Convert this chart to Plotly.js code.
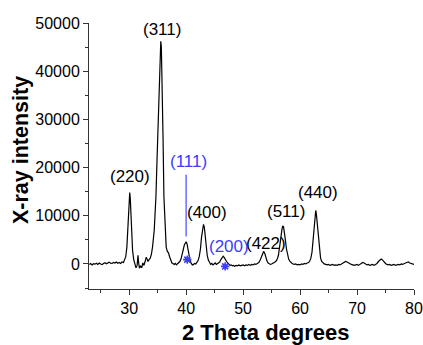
<!DOCTYPE html>
<html>
<head>
<meta charset="utf-8">
<script src="https://cdn.plot.ly/plotly-3.0.1.min.js"></script>
<style>html,body{margin:0;padding:0;background:#fff;}#chart{width:423px;height:345px;}</style>
</head>
<body>
<div id="chart"></div>
<script>
// 2-theta positions (degrees)
const twoTheta = [
 23.0,23.25,23.5,23.75,24.0,24.25,24.5,24.75,25.0,25.25,25.5,25.75,26.0,26.25,26.5,26.75,27.0,27.25,27.5,27.75,28.0,28.25,28.5,28.75,29.0,
 29.2,29.4,29.6,29.8,29.9,30.0,30.1,30.2,30.3,30.45,30.6,30.8,31.0,31.2,31.4,31.55,31.65,31.8,32.0,32.2,32.4,32.6,32.8,33.0,33.15,33.3,33.5,33.7,33.9,
 34.1,34.4,34.7,34.9,35.1,35.3,35.45,35.55,35.65,35.8,35.95,36.1,36.3,36.5,36.7,36.9,37.1,37.3,37.5,37.7,37.9,38.1,38.3,38.5,38.7,38.9,
 39.1,39.3,39.5,39.7,39.85,40.0,40.15,40.3,40.5,40.7,40.9,41.1,41.3,41.5,41.7,41.9,42.1,42.3,42.5,42.7,42.9,43.05,43.2,43.35,43.5,43.7,43.9,
 44.1,44.3,44.5,44.7,44.9,45.1,45.3,45.5,45.7,45.9,46.1,46.3,46.5,46.7,46.9,47.1,47.3,47.5,47.7,47.9,48.1,48.3,48.5,48.75,49.0,49.25,49.5,49.75,
 50.0,50.25,50.5,50.75,51.0,51.25,51.5,51.75,52.0,52.25,52.5,52.75,53.0,53.2,53.4,53.6,53.8,54.0,54.2,54.4,54.6,54.8,55.0,55.2,55.4,55.6,55.8,
 56.0,56.2,56.4,56.6,56.8,56.95,57.1,57.25,57.4,57.6,57.8,58.0,58.2,58.4,58.6,58.8,59.0,59.25,59.5,59.75,60.0,60.25,60.5,60.75,61.0,61.25,61.5,
 61.7,61.9,62.1,62.3,62.5,62.65,62.75,62.85,63.0,63.2,63.4,63.6,63.8,64.0,64.25,64.5,64.75,65.0,65.25,65.5,65.75,66.0,66.25,66.5,66.75,67.0,
 67.25,67.5,67.75,68.0,68.25,68.5,68.75,69.0,69.25,69.5,69.75,70.0,70.25,70.5,70.75,71.0,71.25,71.5,71.75,72.0,72.25,72.5,72.75,73.0,73.25,
 73.5,73.75,74.0,74.25,74.5,74.75,75.0,75.25,75.5,75.75,76.0,76.25,76.5,76.75,77.0,77.25,77.5,77.75,78.0,78.25,78.5,78.75,79.0,79.25,79.5,79.75,80.0
];
// X-ray intensity (counts)
const intensity = [
 -100,100,-200,50,-50,150,-100,200,0,-150,100,250,50,200,350,150,100,300,200,400,150,300,100,400,300,
 900,1500,3500,8500,12000,14300,14800,13500,10500,6000,2800,900,-200,-800,-300,1800,400,-900,-400,-800,200,-300,500,1400,1000,500,900,1200,2000,
 3500,7000,14000,22000,31000,40000,45000,46200,45000,38000,26000,14000,6500,3500,2600,2300,1500,600,200,100,-100,100,-200,50,200,500,
 1000,1800,3000,4000,4500,4600,4200,3200,1800,700,100,-200,-100,100,0,300,700,1500,3000,5500,7600,8200,7600,5800,3800,1800,800,
 300,-100,100,-200,0,200,-100,100,300,400,900,1300,1600,1300,800,500,200,-100,-300,-200,-400,-300,-500,-300,-400,-200,-400,-300,
 -200,-400,-200,-300,-100,-300,-100,-200,0,-100,100,300,800,1500,2300,2600,2200,1300,600,200,100,-100,0,100,200,400,600,
 1000,1800,3200,5200,7000,7900,7700,6800,5200,3200,1800,1000,600,300,100,0,-100,0,-200,-100,-200,0,-100,100,0,200,300,
 600,1200,2500,5200,8800,10800,11100,10500,8500,5200,2500,1200,500,200,0,-100,-200,-100,-300,-200,-100,-300,-200,-300,-100,-200,
 0,200,400,500,400,200,0,-100,-200,-300,-200,-100,-300,-100,100,300,200,-100,-200,-100,-300,-200,-100,-300,-100,
 100,500,800,1000,800,400,100,-100,-200,-100,-300,-200,-100,-300,-200,-100,-200,0,-100,100,200,300,400,200,100,0,-100
];

// peak labels (black)
const hklLabels = ["(220)","(311)","(400)","(422)","(511)","(440)"];
const hklX = [30.1, 35.8, 43.7, 54.0, 57.6, 63.2];
const hklY = [18200, 48600, 10700, 4200, 10900, 14850];

// impurity labels (blue)
const impLabels = ["(111)","(200)"];
const impX = [40.4, 47.5];
const impY = [21300, 3600];

// impurity asterisks
const starX = [40.2, 46.85];
const starY = [900, -500];

// blue marker line for (111)
const markLineX = [40, 40];
const markLineY = [5700, 18500];

const xTicks = [30, 40, 50, 60, 70, 80];
const yTicks = [0, 10000, 20000, 30000, 40000, 50000];

const blue = "#3c3cff";
const font = "Liberation Sans, Arial, sans-serif";

const traces = [
  {x: twoTheta, y: intensity, type: "scatter", mode: "lines",
   line: {color: "#000", width: 1.2}, hoverinfo: "skip"},
  {x: markLineX, y: markLineY, type: "scatter", mode: "lines",
   line: {color: "#6b6bff", width: 1.5}, hoverinfo: "skip"},
  {x: starX, y: starY, type: "scatter", mode: "markers",
   marker: {symbol: "asterisk-open", size: 7, color: blue, line: {color: blue, width: 1.6}}, hoverinfo: "skip"}
];

const annotations = [];
hklLabels.forEach((t, i) => annotations.push({
  x: hklX[i], y: hklY[i], xref: "x", yref: "y", text: t, showarrow: false,
  font: {family: font, size: 17, color: "#000"}
}));
impLabels.forEach((t, i) => annotations.push({
  x: impX[i], y: impY[i], xref: "x", yref: "y", text: t, showarrow: false,
  font: {family: font, size: 17, color: blue}
}));
annotations.push({
  x: 0.5437, y: 0, xref: "paper", yref: "paper", yanchor: "middle",
  yshift: -43, text: "<b>2 Theta degrees</b>", showarrow: false,
  font: {family: font, size: 22, color: "#000"}
});
annotations.push({
  x: 0, y: 0.5, xref: "paper", yref: "paper", xanchor: "center",
  xshift: -68, yshift: 6, text: "<b>X-ray intensity</b>", textangle: -90, showarrow: false,
  font: {family: font, size: 21.5, color: "#000"}
});

const layout = {
  width: 423, height: 345,
  margin: {l: 89, r: 9, t: 23, b: 56, pad: 0},
  paper_bgcolor: "#fff", plot_bgcolor: "#fff",
  showlegend: false,
  font: {family: font, size: 16, color: "#000"},
  xaxis: {
    range: [22.95, 80], tickvals: xTicks, ticktext: xTicks.map(String),
    ticks: "outside", ticklen: 5, tickwidth: 1, tickcolor: "#333",
    showline: true, linecolor: "#333", linewidth: 1, showgrid: false, zeroline: false,
    tickfont: {family: font, size: 16, color: "#000"},
    minor: {dtick: 5, tick0: 0, ticks: "outside", ticklen: 3, tickcolor: "#333", showgrid: false}
  },
  yaxis: {
    range: [-5200, 50000], tickvals: yTicks, ticktext: yTicks.map(String),
    ticks: "outside", ticklen: 5, tickwidth: 1, tickcolor: "#333",
    showline: true, linecolor: "#333", linewidth: 1, showgrid: false, zeroline: false,
    tickfont: {family: font, size: 16, color: "#000"},
    minor: {dtick: 5000, tick0: 0, ticks: "outside", ticklen: 3, tickcolor: "#333", showgrid: false}
  },
  annotations: annotations
};

Plotly.newPlot("chart", traces, layout, {displayModeBar: false, staticPlot: true});
</script>
</body>
</html>
